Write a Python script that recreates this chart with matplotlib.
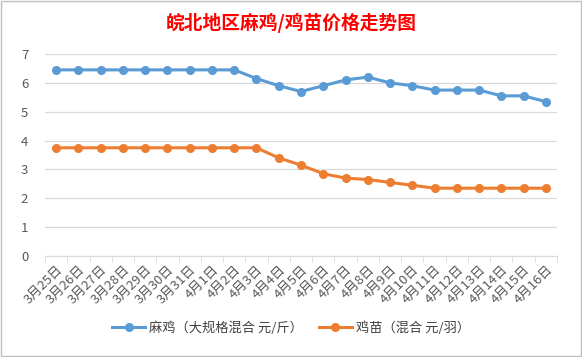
import numpy as np
import matplotlib.pyplot as plt
from matplotlib.patches import Rectangle

plt.rcParams['font.family'] = ['Noto Sans CJK SC', 'DejaVu Sans']

dates = ["3月25日", "3月26日", "3月27日", "3月28日", "3月29日", "3月30日", "3月31日",
         "4月1日", "4月2日", "4月3日", "4月4日", "4月5日", "4月6日", "4月7日", "4月8日",
         "4月9日", "4月10日", "4月11日", "4月12日", "4月13日", "4月14日", "4月15日", "4月16日"]
maji = [6.45, 6.45, 6.45, 6.45, 6.45, 6.45, 6.45, 6.45, 6.45, 6.15, 5.9, 5.7, 5.9,
        6.1, 6.2, 6.0, 5.9, 5.75, 5.75, 5.75, 5.55, 5.55, 5.35]
jimiao = [3.75, 3.75, 3.75, 3.75, 3.75, 3.75, 3.75, 3.75, 3.75, 3.75, 3.4, 3.15, 2.85,
          2.7, 2.65, 2.55, 2.45, 2.35, 2.35, 2.35, 2.35, 2.35, 2.35]

fig = plt.figure(figsize=(5.82, 3.57), dpi=100)
ax = fig.add_axes([45 / 582, 1 - 256 / 357, 512 / 582, 202 / 357])

x = np.arange(len(dates))
ax.plot(x, maji, color="#5b9bd5", lw=2.2, marker="o", ms=5.5, label="麻鸡（大规格混合 元/斤）")
ax.plot(x, jimiao, color="#ed7d31", lw=2.2, marker="o", ms=5.5, label="鸡苗（混合 元/羽）")

ax.set_xlim(-0.5, len(dates) - 0.5)
ax.set_ylim(0, 7)
ax.set_yticks(range(8))
ax.grid(axis="y", color="#d9d9d9", lw=0.9)
ax.set_axisbelow(True)
for s in ["top", "right", "left"]:
    ax.spines[s].set_visible(False)
ax.spines["bottom"].set_color("#d9d9d9")
ax.tick_params(axis="y", length=0, labelsize=9.5, labelcolor="#595959", pad=12)
ax.set_xticks(x)
ax.set_xticklabels(dates, rotation=45, ha="right", rotation_mode="anchor", fontsize=9.5, color="#595959")
ax.tick_params(axis="x", which="major", length=0, pad=5)
ax.set_xticks(np.arange(-0.5, len(dates)), minor=True)
ax.tick_params(axis="x", which="minor", length=4, color="#d9d9d9")

fig.text(0.5, 0.935, "皖北地区麻鸡/鸡苗价格走势图", ha="center", va="center",
         color="red", fontsize=13.5, fontweight="bold")
fig.legend(loc="center", bbox_to_anchor=(0.5, 1 - 328 / 357), ncol=2, frameon=False,
           fontsize=9.5, labelcolor="#404040", handlelength=2.5, columnspacing=1.2, handletextpad=0.3)

fig.add_artist(Rectangle((0.002, 0.003), 0.996, 0.994, transform=fig.transFigure,
                         fill=False, edgecolor="#bfbfbf", lw=1))

fig.savefig("out.png", dpi=100)
